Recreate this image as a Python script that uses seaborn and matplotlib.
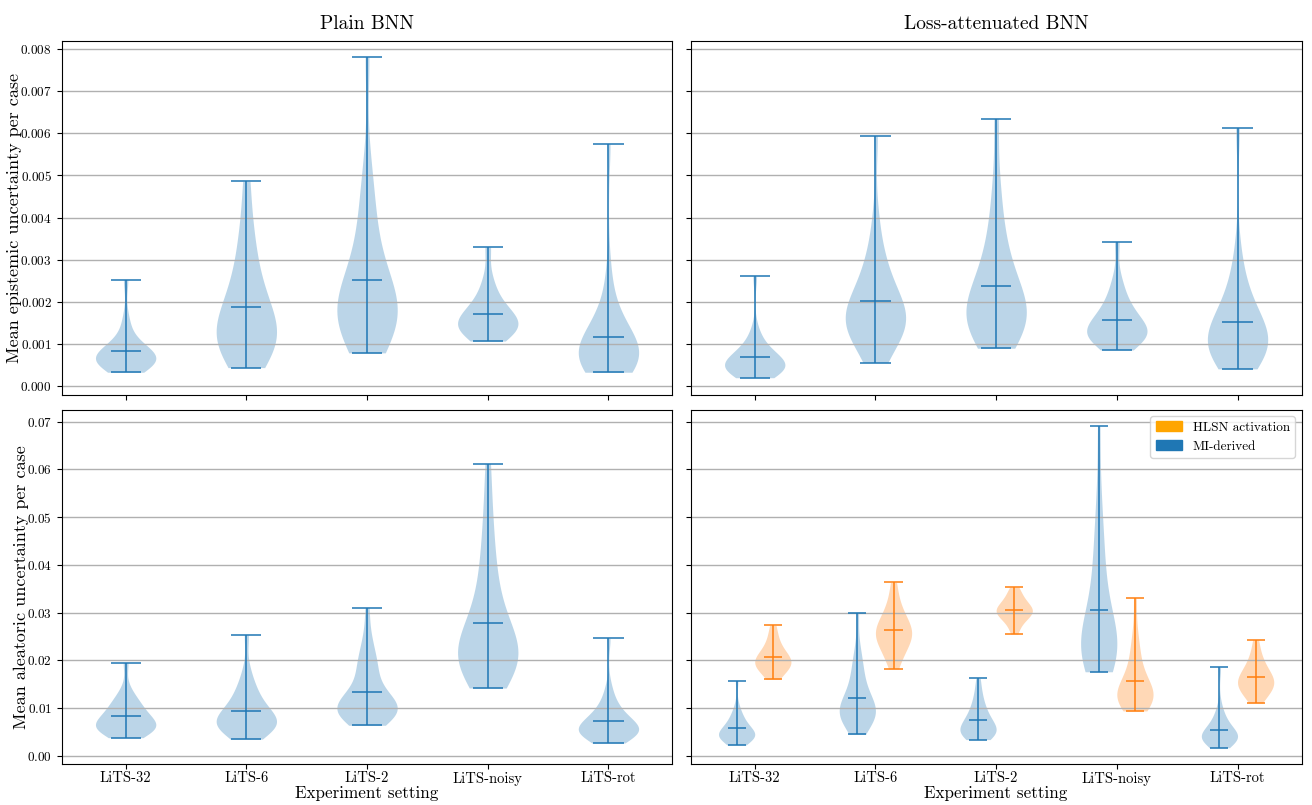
import pandas as pd
import matplotlib.pyplot as plt
import seaborn as sns
from matplotlib.patches import Patch

settings = ['LiTS-32', 'LiTS-6', 'LiTS-2', 'LiTS-noisy', 'LiTS-rot']

# Plain BNN, mean epistemic uncertainty per case
plain_epi_32 = [0.00033, 0.00042, 0.00050, 0.00055, 0.00058, 0.00060, 0.00063, 0.00064, 0.00066, 0.00068,
                0.00070, 0.00074, 0.00080, 0.00086, 0.00094, 0.00102, 0.00125, 0.00160, 0.00253]
plain_epi_6 = [0.00044, 0.00062, 0.00078, 0.00090, 0.00100, 0.00108, 0.00115, 0.00125, 0.00135, 0.00145,
               0.00160, 0.00175, 0.00190, 0.00210, 0.00235, 0.00260, 0.00295, 0.00340, 0.00390, 0.00486]
plain_epi_2 = [0.00079, 0.00100, 0.00120, 0.00135, 0.00140, 0.00148, 0.00158, 0.00160, 0.00166, 0.00175,
               0.00180, 0.00185, 0.00195, 0.00208, 0.00222, 0.00240, 0.00245, 0.00270, 0.00300, 0.00335,
               0.00370, 0.00410, 0.00460, 0.00520, 0.00781]
plain_epi_noisy = [0.00107, 0.00118, 0.00125, 0.00132, 0.00136, 0.00140, 0.00144, 0.00148, 0.00152, 0.00158,
                   0.00165, 0.00170, 0.00180, 0.00190, 0.00205, 0.00225, 0.00255, 0.00330]
plain_epi_rot = [0.00033, 0.00042, 0.00050, 0.00055, 0.00056, 0.00060, 0.00062, 0.00065, 0.00067, 0.00070,
                 0.00072, 0.00075, 0.00078, 0.00084, 0.00090, 0.00097, 0.00105, 0.00115, 0.00125, 0.00140,
                 0.00155, 0.00170, 0.00200, 0.00270, 0.00575]

# Loss-attenuated BNN, mean epistemic uncertainty per case
att_epi_32 = [0.00020, 0.00028, 0.00033, 0.00037, 0.00040, 0.00042, 0.00043, 0.00045, 0.00046, 0.00048,
              0.00050, 0.00051, 0.00054, 0.00058, 0.00062, 0.00067, 0.00073, 0.00080, 0.00090, 0.00095,
              0.00110, 0.00135, 0.00261]
att_epi_6 = [0.00056, 0.00080, 0.00098, 0.00112, 0.00125, 0.00136, 0.00140, 0.00145, 0.00153, 0.00155,
             0.00160, 0.00165, 0.00168, 0.00176, 0.00185, 0.00195, 0.00206, 0.00220, 0.00236, 0.00255,
             0.00280, 0.00295, 0.00330, 0.00400, 0.00594]
att_epi_2 = [0.00090, 0.00105, 0.00118, 0.00130, 0.00140, 0.00148, 0.00150, 0.00155, 0.00162, 0.00170,
             0.00178, 0.00186, 0.00195, 0.00205, 0.00216, 0.00230, 0.00245, 0.00262, 0.00282, 0.00305,
             0.00335, 0.00370, 0.00420, 0.00490, 0.00635]
att_epi_noisy = [0.00086, 0.00098, 0.00106, 0.00112, 0.00117, 0.00120, 0.00122, 0.00126, 0.00128, 0.00130,
                 0.00135, 0.00140, 0.00146, 0.00153, 0.00162, 0.00172, 0.00185, 0.00190, 0.00205, 0.00230,
                 0.00255, 0.00342]
att_epi_rot = [0.00041, 0.00055, 0.00066, 0.00075, 0.00083, 0.00085, 0.00090, 0.00095, 0.00096, 0.00102,
               0.00105, 0.00108, 0.00115, 0.00122, 0.00130, 0.00138, 0.00148, 0.00160, 0.00175, 0.00192,
               0.00205, 0.00230, 0.00260, 0.00320, 0.00612]

# Plain BNN, mean aleatoric uncertainty per case
plain_ale_32 = [0.0038, 0.0045, 0.0050, 0.0054, 0.0055, 0.0057, 0.0060, 0.0062, 0.0063, 0.0066, 0.0070,
                0.0074, 0.0078, 0.0083, 0.0088, 0.0095, 0.0102, 0.0110, 0.0112, 0.0122, 0.0140, 0.0195]
plain_ale_6 = [0.0035, 0.0045, 0.0052, 0.0057, 0.0060, 0.0061, 0.0065, 0.0066, 0.0068, 0.0070, 0.0072,
               0.0076, 0.0080, 0.0085, 0.0090, 0.0096, 0.0103, 0.0110, 0.0120, 0.0132, 0.0138, 0.0155,
               0.0180, 0.0253]
plain_ale_2 = [0.0064, 0.0075, 0.0080, 0.0082, 0.0088, 0.0090, 0.0092, 0.0093, 0.0095, 0.0097, 0.0099,
               0.0100, 0.0101, 0.0105, 0.0108, 0.0110, 0.0115, 0.0122, 0.0130, 0.0140, 0.0152, 0.0166,
               0.0180, 0.0192, 0.0195, 0.0210, 0.0230, 0.0255, 0.0310]
plain_ale_noisy = [0.0142, 0.0160, 0.0172, 0.0182, 0.0190, 0.0195, 0.0197, 0.0200, 0.0204, 0.0208, 0.0210,
                   0.0217, 0.0225, 0.0233, 0.0242, 0.0252, 0.0264, 0.0278, 0.0295, 0.0315, 0.0338, 0.0365,
                   0.0395, 0.0430, 0.0475, 0.0530, 0.0612]
plain_ale_rot = [0.0027, 0.0036, 0.0042, 0.0044, 0.0046, 0.0048, 0.0049, 0.0050, 0.0051, 0.0052, 0.0053,
                 0.0054, 0.0055, 0.0056, 0.0058, 0.0061, 0.0065, 0.0069, 0.0073, 0.0078, 0.0084, 0.0091,
                 0.0092, 0.0100, 0.0110, 0.0125, 0.0145, 0.0246]

# Loss-attenuated BNN, MI-derived aleatoric uncertainty
att_mi_32 = [0.0023, 0.0029, 0.0033, 0.0036, 0.0039, 0.0040, 0.0041, 0.0042, 0.0043, 0.0044, 0.0045,
             0.0047, 0.0050, 0.0053, 0.0056, 0.0060, 0.0065, 0.0071, 0.0078, 0.0080, 0.0090, 0.0105, 0.0157]
att_mi_6 = [0.0045, 0.0058, 0.0067, 0.0074, 0.0080, 0.0082, 0.0085, 0.0088, 0.0090, 0.0093, 0.0095,
            0.0097, 0.0100, 0.0105, 0.0111, 0.0118, 0.0126, 0.0135, 0.0146, 0.0158, 0.0172, 0.0190,
            0.0200, 0.0225, 0.0300]
att_mi_2 = [0.0034, 0.0039, 0.0043, 0.0045, 0.0046, 0.0049, 0.0050, 0.0052, 0.0055, 0.0058, 0.0062,
            0.0066, 0.0070, 0.0075, 0.0080, 0.0086, 0.0093, 0.0100, 0.0110, 0.0122, 0.0138, 0.0162]
att_mi_noisy = [0.0176, 0.0188, 0.0196, 0.0203, 0.0209, 0.0212, 0.0215, 0.0218, 0.0221, 0.0225, 0.0228,
                0.0235, 0.0243, 0.0252, 0.0262, 0.0274, 0.0288, 0.0304, 0.0322, 0.0344, 0.0370, 0.0400,
                0.0435, 0.0450, 0.0500, 0.0560, 0.0690]
att_mi_rot = [0.0017, 0.0024, 0.0029, 0.0032, 0.0034, 0.0035, 0.0036, 0.0037, 0.0038, 0.0039, 0.0040,
              0.0041, 0.0043, 0.0046, 0.0049, 0.0052, 0.0056, 0.0061, 0.0067, 0.0075, 0.0078, 0.0088,
              0.0105, 0.0185]

# Loss-attenuated BNN, HLSN activation aleatoric uncertainty
att_hlsn_32 = [0.0160, 0.0170, 0.0177, 0.0182, 0.0186, 0.0190, 0.0193, 0.0196, 0.0199, 0.0202, 0.0206,
               0.0210, 0.0215, 0.0222, 0.0230, 0.0240, 0.0255, 0.0273]
att_hlsn_6 = [0.0182, 0.0200, 0.0212, 0.0222, 0.0230, 0.0237, 0.0243, 0.0248, 0.0253, 0.0257, 0.0261,
              0.0266, 0.0271, 0.0277, 0.0284, 0.0292, 0.0302, 0.0315, 0.0335, 0.0363]
att_hlsn_2 = [0.0255, 0.0270, 0.0280, 0.0287, 0.0292, 0.0296, 0.0299, 0.0301, 0.0303, 0.0306, 0.0309,
              0.0312, 0.0316, 0.0321, 0.0327, 0.0334, 0.0343, 0.0353]
att_hlsn_noisy = [0.0094, 0.0102, 0.0108, 0.0113, 0.0115, 0.0118, 0.0120, 0.0122, 0.0126, 0.0128, 0.0130,
                  0.0135, 0.0140, 0.0146, 0.0152, 0.0160, 0.0170, 0.0182, 0.0198, 0.0220, 0.0230, 0.0265,
                  0.0330]
att_hlsn_rot = [0.0111, 0.0122, 0.0130, 0.0136, 0.0141, 0.0145, 0.0149, 0.0153, 0.0157, 0.0161, 0.0165,
                0.0170, 0.0176, 0.0183, 0.0192, 0.0203, 0.0218, 0.0243]

BLUE = '#1f77b4'
ORANGE = '#ff7f0e'

plt.rcParams['font.family'] = 'serif'
plt.rcParams['font.serif'] = ['cmr10', 'DejaVu Serif']
plt.rcParams['mathtext.fontset'] = 'cm'
plt.rcParams['axes.formatter.use_mathtext'] = True


def to_long(groups, method):
    rows = []
    for name, vals in zip(settings, groups):
        for v in vals:
            rows.append((name, method, v))
    return pd.DataFrame(rows, columns=['setting', 'method', 'value'])


# lignes min / moyenne / max comme dans violinplot de matplotlib
def draw_stats(ax, df, color, offset, width):
    for i, name in enumerate(settings):
        v = df.loc[df.setting == name, 'value']
        x = i + offset
        ax.vlines(x, v.min(), v.max(), color=color, lw=1.1)
        ax.hlines([v.min(), v.mean(), v.max()], x - width / 4, x + width / 4, color=color, lw=1.1)


def single_violins(ax, df):
    sns.violinplot(data=df, x='setting', y='value', order=settings, ax=ax, color=BLUE,
                   saturation=1, cut=0, width=0.5, density_norm='width', inner=None,
                   linewidth=0, alpha=0.3)
    draw_stats(ax, df, BLUE, 0, 0.5)


plain_epi = to_long([plain_epi_32, plain_epi_6, plain_epi_2, plain_epi_noisy, plain_epi_rot], 'MI-derived')
att_epi = to_long([att_epi_32, att_epi_6, att_epi_2, att_epi_noisy, att_epi_rot], 'MI-derived')
plain_ale = to_long([plain_ale_32, plain_ale_6, plain_ale_2, plain_ale_noisy, plain_ale_rot], 'MI-derived')
att_mi = to_long([att_mi_32, att_mi_6, att_mi_2, att_mi_noisy, att_mi_rot], 'MI-derived')
att_hlsn = to_long([att_hlsn_32, att_hlsn_6, att_hlsn_2, att_hlsn_noisy, att_hlsn_rot], 'HLSN activation')
att_ale = pd.concat([att_mi, att_hlsn], ignore_index=True)

fig, axes = plt.subplots(2, 2, figsize=(13.12, 8.05), dpi=100, sharex=True, sharey='row')

single_violins(axes[0, 0], plain_epi)
single_violins(axes[0, 1], att_epi)
single_violins(axes[1, 0], plain_ale)

ax = axes[1, 1]
sns.violinplot(data=att_ale, x='setting', y='value', hue='method', order=settings,
               hue_order=['MI-derived', 'HLSN activation'],
               palette={'MI-derived': BLUE, 'HLSN activation': ORANGE}, ax=ax,
               saturation=1, cut=0, width=0.6, gap=0, dodge=True, density_norm='width',
               inner=None, linewidth=0, alpha=0.3, legend=False)
draw_stats(ax, att_mi, BLUE, -0.15, 0.3)
draw_stats(ax, att_hlsn, ORANGE, 0.15, 0.3)
ax.legend(handles=[Patch(color='orange', label='HLSN activation'),
                   Patch(color=BLUE, label='MI-derived')],
          loc='upper right', fontsize=9.5)

axes[0, 0].set_ylim(-0.00022, 0.00819)
axes[1, 0].set_ylim(-0.0017, 0.0725)

for a in axes.flat:
    a.grid(axis='y', color='#b0b0b0', lw=1)
    a.set_xlabel('')
    a.set_ylabel('')
    a.tick_params(axis='y', labelsize=9.5)
    a.tick_params(axis='x', labelsize=10.5, pad=2)
    for s in a.spines.values():
        s.set_color('black')

for a in axes[0]:
    a.tick_params(axis='x', labelbottom=False)

axes[0, 0].set_title('Plain BNN', fontsize=14, pad=9)
axes[0, 1].set_title('Loss-attenuated BNN', fontsize=14, pad=9)
axes[0, 0].set_ylabel('Mean epistemic uncertainty per case', fontsize=13, labelpad=-1.5)
axes[1, 0].set_ylabel('Mean aleatoric uncertainty per case', fontsize=13, labelpad=-1.5)
axes[1, 0].set_xlabel('Experiment setting', fontsize=12.3, labelpad=0)
axes[1, 1].set_xlabel('Experiment setting', fontsize=12.3, labelpad=0)

plt.subplots_adjust(left=0.047, right=0.992, top=0.949, bottom=0.051, wspace=0.03, hspace=0.04)
plt.savefig('out.png', dpi=100)
